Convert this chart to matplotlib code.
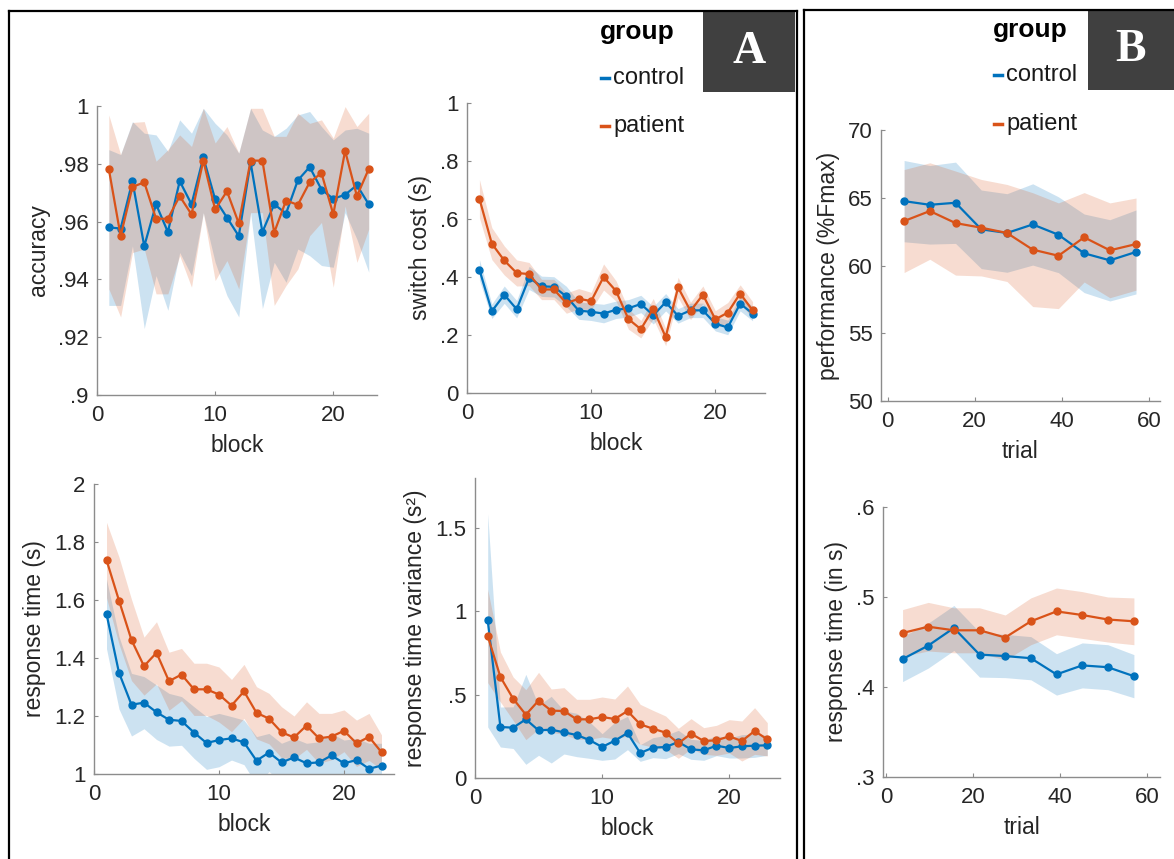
import matplotlib
matplotlib.use("Agg")
import matplotlib.pyplot as plt
from matplotlib.lines import Line2D
from matplotlib.patches import Rectangle
from matplotlib.ticker import FuncFormatter

plt.rcParams['font.family'] = ['Liberation Sans', 'DejaVu Sans']

BLUE = '#0072BD'
ORANGE = '#D95319'

# ---- data -------------------------------------------------------------
blocks = list(range(1, 24))
trials = [3.8, 9.7, 15.6, 21.5, 27.4, 33.3, 39.2, 45.1, 51.0, 57.0]

# accuracy (mean, lower and upper edge of band)
acc_control = [0.958, 0.9576, 0.974, 0.9515, 0.966, 0.9564, 0.974, 0.966, 0.9822, 0.9677,
               0.9614, 0.955, 0.9805, 0.9564, 0.966, 0.9628, 0.9743, 0.9789, 0.9711, 0.9679,
               0.9693, 0.9726, 0.966]
acc_control_lo = [0.931, 0.931, 0.9516, 0.923, 0.9413, 0.9293, 0.9493, 0.9413, 0.9631, 0.9459,
                  0.9344, 0.927, 0.9631, 0.9299, 0.9459, 0.939, 0.9505, 0.9482, 0.9448, 0.9442,
                  0.9631, 0.9539, 0.9425]
acc_control_hi = [0.9849, 0.9832, 0.9946, 0.9906, 0.99, 0.9843, 0.9952, 0.9906, 0.9992, 0.994,
                  0.99, 0.9837, 0.9992, 0.9917, 0.9895, 0.9923, 0.9969, 0.9981, 0.9929, 0.9883,
                  0.9917, 0.9923, 0.9906]
acc_patient = [0.9782, 0.955, 0.972, 0.9736, 0.961, 0.961, 0.9688, 0.9625, 0.9811, 0.9642,
               0.9705, 0.9594, 0.9811, 0.9811, 0.9562, 0.9673, 0.9658, 0.9736, 0.9768, 0.9625,
               0.9845, 0.9688, 0.9782]
acc_patient_lo = [0.9367, 0.927, 0.9493, 0.9505, 0.935, 0.935, 0.9482, 0.9373, 0.9631, 0.9396,
                  0.9465, 0.9367, 0.9631, 0.9631, 0.931, 0.9379, 0.9436, 0.9551, 0.9597, 0.9373,
                  0.9654, 0.9459, 0.9574]
acc_patient_hi = [0.9969, 0.9832, 0.9943, 0.9946, 0.9809, 0.9849, 0.99, 0.986, 0.9992, 0.9872,
                  0.9929, 0.9837, 0.9992, 0.9992, 0.9895, 0.9895, 0.9975, 0.994, 0.9952, 0.9889,
                  0.9998, 0.9929, 0.9975]

# switch cost (s)
sw_control = [0.425, 0.282, 0.339, 0.289, 0.397, 0.368, 0.366, 0.333, 0.284, 0.28, 0.274, 0.287,
              0.292, 0.307, 0.268, 0.313, 0.266, 0.285, 0.285, 0.239, 0.226, 0.308, 0.274]
sw_control_se = [0.035, 0.025, 0.03, 0.03, 0.04, 0.035, 0.035, 0.035, 0.03, 0.03, 0.032, 0.03,
                 0.03, 0.03, 0.03, 0.03, 0.025, 0.025, 0.025, 0.025, 0.025, 0.025, 0.025]
sw_patient = [0.67, 0.515, 0.457, 0.414, 0.41, 0.357, 0.357, 0.31, 0.325, 0.317, 0.4, 0.352,
              0.255, 0.22, 0.291, 0.193, 0.364, 0.283, 0.339, 0.254, 0.277, 0.343, 0.285]
sw_patient_se = [0.066, 0.055, 0.05, 0.045, 0.04, 0.035, 0.035, 0.035, 0.035, 0.03, 0.045, 0.035,
                 0.035, 0.03, 0.035, 0.03, 0.035, 0.03, 0.03, 0.03, 0.035, 0.03, 0.03]

# response time (s)
rt_control = [1.552, 1.349, 1.239, 1.246, 1.213, 1.187, 1.183, 1.143, 1.107, 1.117, 1.123, 1.109,
              1.046, 1.074, 1.04, 1.057, 1.037, 1.04, 1.064, 1.037, 1.048, 1.018, 1.029]
rt_control_se = [0.12, 0.125, 0.108, 0.09, 0.094, 0.091, 0.084, 0.089, 0.091, 0.092, 0.075, 0.077,
                 0.083, 0.066, 0.066, 0.066, 0.069, 0.071, 0.076, 0.08, 0.075, 0.088, 0.077]
rt_patient = [1.738, 1.598, 1.462, 1.372, 1.418, 1.32, 1.343, 1.292, 1.292, 1.274, 1.236, 1.285,
              1.211, 1.191, 1.144, 1.126, 1.167, 1.123, 1.129, 1.149, 1.106, 1.128, 1.075]
rt_patient_se = [0.13, 0.15, 0.14, 0.1, 0.107, 0.1, 0.09, 0.09, 0.09, 0.095, 0.09, 0.093,
                 0.09, 0.087, 0.088, 0.074, 0.082, 0.086, 0.08, 0.072, 0.08, 0.081, 0.06]

# response time variance (s^2)
var_control = [0.946, 0.306, 0.302, 0.352, 0.286, 0.29, 0.274, 0.258, 0.228, 0.186, 0.224, 0.27,
               0.15, 0.182, 0.186, 0.216, 0.172, 0.166, 0.194, 0.18, 0.19, 0.194, 0.196]
var_control_se = [0.64, 0.12, 0.125, 0.27, 0.15, 0.2, 0.13, 0.13, 0.11, 0.08, 0.11, 0.1,
                  0.05, 0.06, 0.07, 0.07, 0.06, 0.06, 0.06, 0.06, 0.07, 0.07, 0.06]
var_patient = [0.852, 0.606, 0.476, 0.38, 0.464, 0.404, 0.402, 0.352, 0.352, 0.366, 0.354, 0.402,
               0.322, 0.296, 0.272, 0.208, 0.266, 0.222, 0.226, 0.25, 0.222, 0.282, 0.232]
var_patient_se = [0.28, 0.15, 0.13, 0.15, 0.17, 0.13, 0.14, 0.12, 0.12, 0.12, 0.12, 0.15,
                  0.12, 0.11, 0.1, 0.09, 0.09, 0.08, 0.09, 0.1, 0.12, 0.14, 0.1]

# performance (%Fmax)
perf_control = [64.75, 64.48, 64.63, 62.67, 62.4, 63.03, 62.27, 60.9, 60.38, 61.0]
perf_control_se = [3.0, 2.9, 3.0, 2.9, 2.9, 3.0, 2.8, 2.9, 3.0, 3.1]
perf_patient = [63.28, 64.02, 63.13, 62.79, 62.4, 61.17, 60.72, 62.08, 61.12, 61.58]
perf_patient_se = [3.8, 3.56, 3.84, 3.56, 3.58, 4.2, 3.9, 3.3, 3.5, 3.4]

# response time (in s), part B
rtb_control = [0.431, 0.446, 0.4656, 0.436, 0.4344, 0.432, 0.414, 0.424, 0.422, 0.412]
rtb_control_se = [0.025, 0.025, 0.025, 0.025, 0.024, 0.024, 0.023, 0.025, 0.025, 0.024]
rtb_patient = [0.46, 0.467, 0.463, 0.463, 0.455, 0.473, 0.484, 0.48, 0.475, 0.473]
rtb_patient_se = [0.026, 0.027, 0.025, 0.025, 0.025, 0.026, 0.026, 0.026, 0.025, 0.026]


def matlab_fmt(v, pos):
    s = ('%.3f' % v).rstrip('0').rstrip('.')
    if s.startswith('0.'):
        s = s[1:]
    return s


def band(m, se, sign):
    return [a + sign * b for a, b in zip(m, se)]


W, H = 1174, 859
fig = plt.figure(figsize=(W / 100, H / 100), dpi=100)


def make_ax(left, top, right, bottom):
    return fig.add_axes([left / W, 1 - bottom / H, (right - left) / W, (bottom - top) / H])


def draw(ax, x, mc, loc, hic, mp, lop, hip, xlim, ylim, yticks, xticks, xlabel, ylabel):
    ax.fill_between(x, loc, hic, color=BLUE, alpha=0.2, lw=0)
    ax.fill_between(x, lop, hip, color=ORANGE, alpha=0.2, lw=0)
    ax.plot(x, mc, '-o', color=BLUE, lw=1.6, ms=5)
    ax.plot(x, mp, '-o', color=ORANGE, lw=1.6, ms=5)
    ax.set_xlim(*xlim)
    ax.set_ylim(*ylim)
    ax.set_yticks(yticks)
    ax.set_xticks(xticks)
    ax.yaxis.set_major_formatter(FuncFormatter(matlab_fmt))
    ax.xaxis.set_major_formatter(FuncFormatter(matlab_fmt))
    for s in ['top', 'right']:
        ax.spines[s].set_visible(False)
    for s in ['left', 'bottom']:
        ax.spines[s].set_color('#8c8c8c')
        ax.spines[s].set_linewidth(1.0)
    ax.tick_params(direction='in', length=3, color='#8c8c8c', labelsize=16,
                   labelcolor='#262626')
    ax.tick_params(axis='x', pad=7)
    ax.tick_params(axis='y', pad=6)
    ax.set_xlabel(xlabel, fontsize=16.5, color='#262626', labelpad=6)
    ax.set_ylabel(ylabel, fontsize=16.5, color='#262626', labelpad=6)


# part A
ax1 = make_ax(97, 106, 377, 395)
draw(ax1, blocks, acc_control, acc_control_lo, acc_control_hi,
     acc_patient, acc_patient_lo, acc_patient_hi,
     (0, 23.7), (0.9, 1.0), [0.9, 0.92, 0.94, 0.96, 0.98, 1.0], [0, 10, 20], 'block', 'accuracy')

ax2 = make_ax(467, 103, 765, 393)
draw(ax2, blocks, sw_control, band(sw_control, sw_control_se, -1), band(sw_control, sw_control_se, 1),
     sw_patient, band(sw_patient, sw_patient_se, -1), band(sw_patient, sw_patient_se, 1),
     (0, 24), (0, 1), [0, 0.2, 0.4, 0.6, 0.8, 1.0], [0, 10, 20], 'block', 'switch cost (s)')

ax3 = make_ax(94, 484, 394, 774)
draw(ax3, blocks, rt_control, band(rt_control, rt_control_se, -1), band(rt_control, rt_control_se, 1),
     rt_patient, band(rt_patient, rt_patient_se, -1), band(rt_patient, rt_patient_se, 1),
     (0, 24), (1, 2), [1, 1.2, 1.4, 1.6, 1.8, 2], [0, 10, 20], 'block', 'response time (s)')

ax4 = make_ax(475, 478, 780, 778)
draw(ax4, blocks, var_control, band(var_control, var_control_se, -1), band(var_control, var_control_se, 1),
     var_patient, band(var_patient, var_patient_se, -1), band(var_patient, var_patient_se, 1),
     (0, 24), (0, 1.8), [0, 0.5, 1, 1.5], [0, 10, 20], 'block', 'response time variance (s²)')

# part B
ax5 = make_ax(881, 130, 1160, 401)
draw(ax5, trials, perf_control, band(perf_control, perf_control_se, -1), band(perf_control, perf_control_se, 1),
     perf_patient, band(perf_patient, perf_patient_se, -1), band(perf_patient, perf_patient_se, 1),
     (-1.5, 62.5), (50, 70), [50, 55, 60, 65, 70], [0, 20, 40, 60], 'trial', 'performance (%Fmax)')

ax6 = make_ax(883, 507, 1160, 777)
draw(ax6, trials, rtb_control, band(rtb_control, rtb_control_se, -1), band(rtb_control, rtb_control_se, 1),
     rtb_patient, band(rtb_patient, rtb_patient_se, -1), band(rtb_patient, rtb_patient_se, 1),
     (-0.7, 63), (0.3, 0.6), [0.3, 0.4, 0.5, 0.6], [0, 20, 40, 60], 'trial', 'response time (in s)')


# frames around parts A and B
def fline(x0, y0, x1, y1):
    fig.add_artist(Line2D([x0 / W, x1 / W], [1 - y0 / H, 1 - y1 / H], color='black', lw=1.6))


fline(8.5, 10.5, 796.5, 10.5)
fline(8.5, 10.5, 8.5, 859)
fline(796.5, 10.5, 796.5, 859)
fline(803.5, 9.5, 1174, 9.5)
fline(803.5, 9.5, 803.5, 859)

# panel letters
for (x0, y0, x1, y1, letter) in [(703, 12, 795, 92, 'A'), (1088, 10, 1174, 90, 'B')]:
    fig.add_artist(Rectangle((x0 / W, 1 - y1 / H), (x1 - x0) / W, (y1 - y0) / H,
                             transform=fig.transFigure, color='#404040', lw=0))
    fig.text((x0 + x1) / 2 / W, 1 - (y0 + y1) / 2 / H, letter, family='Liberation Serif',
             fontweight='bold', fontsize=33, color='white', ha='center', va='center')

# group legends
for (lx, gy, cy, py) in [(600, 32, 78, 126), (993, 30, 75, 124)]:
    fig.text(lx / W, 1 - gy / H, 'group', fontsize=19, fontweight='bold', va='center', ha='left')
    for yy, col, name in [(cy, BLUE, 'control'), (py, ORANGE, 'patient')]:
        fig.add_artist(Line2D([(lx + 1) / W, (lx + 9) / W], [1 - yy / H, 1 - yy / H], color=col, lw=2.5))
        fig.text((lx + 13) / W, 1 - yy / H, name, fontsize=17, va='center', ha='left', color='#1a1a1a')

fig.savefig('out.png', dpi=100)
